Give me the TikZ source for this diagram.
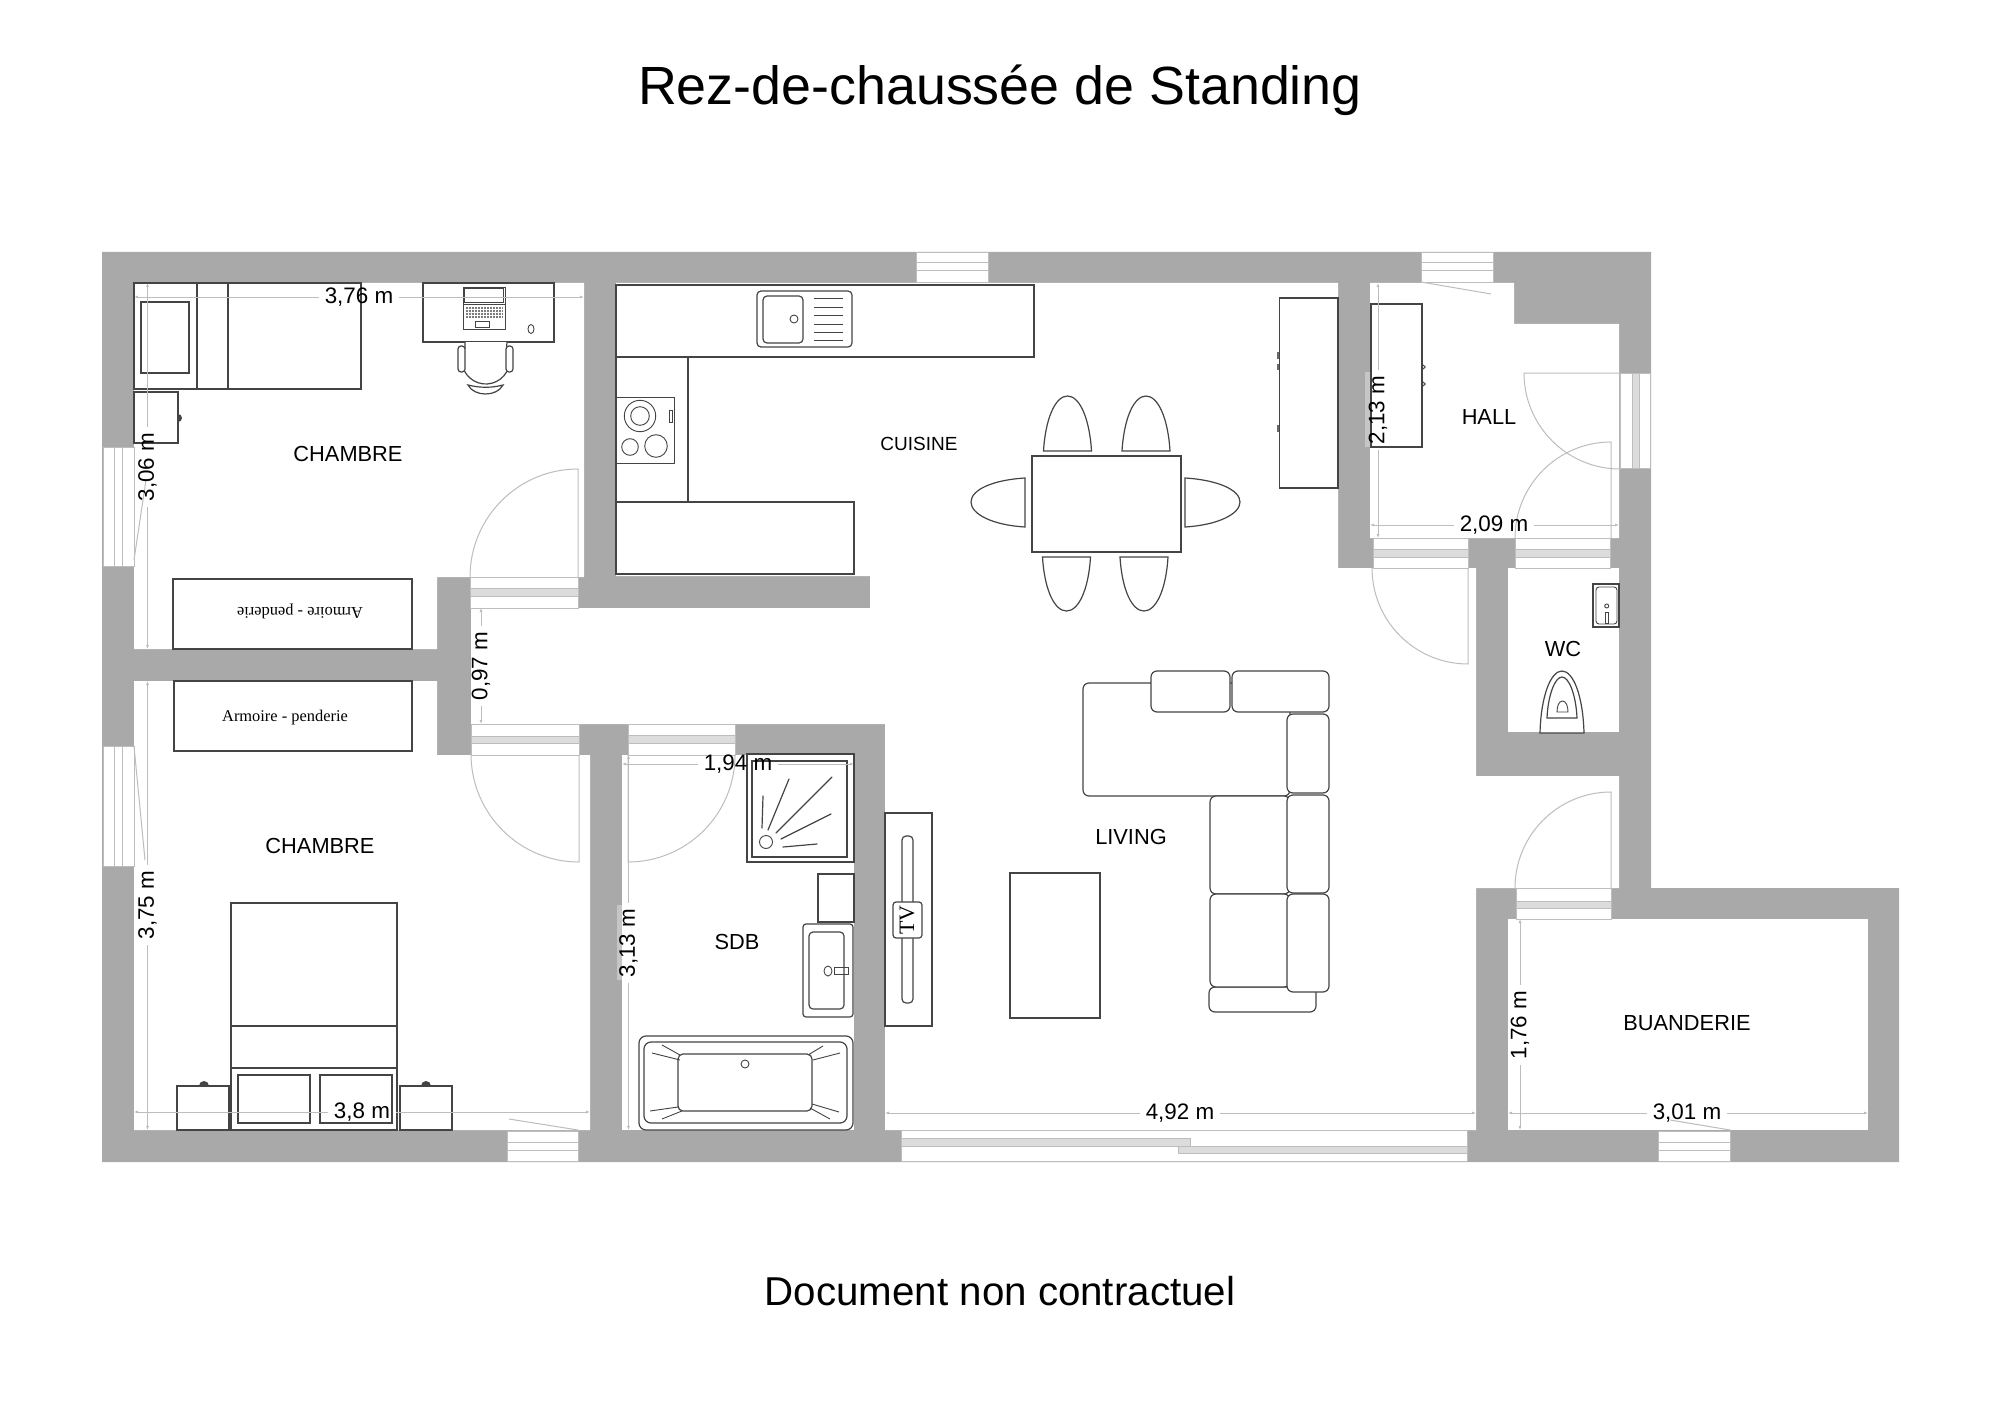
\documentclass[tikz,border=0pt]{standalone}
\usepackage{fontspec}
\setmainfont{Liberation Sans}
\newfontfamily\plaque{Liberation Serif}
\usetikzlibrary{arrows.meta}
\definecolor{wallgray}{HTML}{A9A9A9}
\definecolor{halogray}{HTML}{C6C6C6}
\definecolor{framegray}{HTML}{BDBDBD}
\definecolor{stripegray}{HTML}{DCDCDC}
\definecolor{furnline}{HTML}{444444}
\begin{document}
\begin{tikzpicture}[
    x=1pt, y=-1pt,
    wall/.style={fill=wallgray},
    room/.style={fill=white},
    opening/.style={draw=framegray, line width=0.9pt, fill=white},
    stripe/.style={draw=framegray, line width=0.8pt, fill=stripegray},
    swing/.style={draw=framegray, line width=1pt},
    furn/.style={draw=furnline, line width=1.2pt, fill=white},
    fine/.style={draw=furnline, line width=0.9pt},
    roundfurn/.style={furn, rounded corners=6pt},
    dimline/.style={draw=framegray, line width=0.9pt, -{Latex[length=4pt,width=3pt]}},
    dimtext/.style={inner sep=6pt, font=\fontsize{22.4}{24}\selectfont},
    roomtext/.style={font=\fontsize{21.8}{24}\selectfont},
    plaquetext/.style={font=\plaque\fontsize{16.4}{18}\selectfont}
]
\useasboundingbox (0,0) rectangle (2000,1415);

% Titles
\node[font=\fontsize{53.8}{60}\selectfont] (title) at (1000,90) {Rez-de-chaussée de Standing};
\node[font=\fontsize{40.3}{46}\selectfont] (notice) at (1000,1291) {Document non contractuel};

% Walls
\fill[wall] (102,252) -- (1651,252) -- (1651,888) -- (1899,888) -- (1899,1162) -- (102,1162) -- cycle;

% Rooms
\fill[room] (134,283) -- (584,283) -- (584,577) -- (437,577) -- (437,649) -- (134,649) -- cycle;
\fill[room] (134,681) -- (437,681) -- (437,755) -- (590,755) -- (590,1130) -- (134,1130) -- cycle;
\fill[room] (622,755) rectangle (854,1130);
\fill[room] (616,283) -- (1338,283) -- (1338,568) -- (1476,568) -- (1476,776) -- (1619,776) -- (1619,888)
    -- (1476,888) -- (1476,1130) -- (885,1130) -- (885,724) -- (471,724) -- (471,608) -- (870,608) -- (870,576) -- (616,576) -- cycle;
\fill[room] (1370,283) -- (1514,283) -- (1514,324) -- (1619,324) -- (1619,538) -- (1370,538) -- cycle;
\fill[room] (1508,568) rectangle (1619,732);
\fill[room] (1508,919) rectangle (1868,1130);

% Text halos on the walls
\fill[halogray] (617,905) rectangle (622,980);
\fill[halogray] (1365,372) rectangle (1370,447);

% Doors
\draw[opening] (470,577) rectangle (578,608);
\draw[stripe] (470,588) rectangle (578,596);
\draw[opening] (471,724) rectangle (579,755);
\draw[stripe] (471,736) rectangle (579,743);
\draw[opening] (628,724) rectangle (735,755);
\draw[stripe] (628,735) rectangle (735,743);
\draw[opening] (1373,538) rectangle (1468,568);
\draw[stripe] (1373,549) rectangle (1468,557);
\draw[opening] (1515,538) rectangle (1610,568);
\draw[stripe] (1515,549) rectangle (1610,557);
\draw[opening] (1516,888) rectangle (1611,919);
\draw[stripe] (1516,901) rectangle (1611,908);
\draw[opening] (1620,373) rectangle (1650,468);
\draw[stripe] (1632,373) rectangle (1639,468);

% Door swings
\draw[swing] (578,577) -- (578,469) arc[start angle=-90, end angle=-180, radius=108];
\draw[swing] (579,755) -- (579,862) arc[start angle=90, end angle=180, radius=108];
\draw[swing] (628,755) -- (628,862) arc[start angle=90, end angle=0, radius=107];
\draw[swing] (1620,373) -- (1524,373) arc[start angle=180, end angle=90, radius=96];
\draw[swing] (1611,538) -- (1611,442) arc[start angle=-90, end angle=-180, radius=96];
\draw[swing] (1468,568) -- (1468,664) arc[start angle=90, end angle=180, radius=96];
\draw[swing] (1611,888) -- (1611,792) arc[start angle=-90, end angle=-180, radius=96];

% Windows
\draw[opening] (103,447) rectangle (134,566);
\draw[swing] (114,447) -- (114,566) (122,447) -- (122,566);
\draw[opening] (103,746) rectangle (134,866);
\draw[swing] (114,746) -- (114,866) (122,746) -- (122,866);
\draw[opening] (916,252) rectangle (988,282);
\draw[swing] (916,263) -- (988,263) (916,271) -- (988,271);
\draw[opening] (1421,252) rectangle (1493,282);
\draw[swing] (1421,263) -- (1493,263) (1421,271) -- (1493,271);
\draw[opening] (507,1131) rectangle (578,1161);
\draw[swing] (507,1142) -- (578,1142) (507,1150) -- (578,1150);
\draw[opening] (1658,1131) rectangle (1730,1161);
\draw[swing] (1658,1142) -- (1730,1142) (1658,1150) -- (1730,1150);
\draw[swing] (134,560) -- (146,480);
\draw[swing] (134,746) -- (145,860);
\draw[swing] (578,1130) -- (509,1119);
\draw[swing] (1421,282) -- (1491,294);
\draw[swing] (1730,1130) -- (1670,1120);

% Sliding window
\draw[opening] (901,1130) rectangle (1467,1161);
\draw[stripe] (901,1138) rectangle (1190,1146);
\draw[stripe] (1178,1146) rectangle (1467,1153);

% Chambre 1
\draw[furn] (134,283) rectangle (361,389);
\draw[furn] (197,283) -- (197,389) (228,283) -- (228,389);
\draw[furn] (141,302) rectangle (189,373);
\fill[furnline] (178,414) arc[start angle=-90, end angle=90, radius=4];
\draw[furn] (134,392) rectangle (178,443);
\draw[furn] (423,283) rectangle (554,342);
\draw[fine] (463,287) rectangle (505,329);
\draw[fine] (464,288) rectangle (503,302);
\draw[fine] (463,304) -- (505,304);
\fill[furnline!70] (465,307) rectangle (503,319);
\draw[white, line width=0.3pt, step=3pt] (465,307) grid (503,319);
\draw[fine] (475,321) rectangle (489,327);
\draw[fine] (531,329) ellipse[x radius=3, y radius=4.5];
\draw[furn] (465,342) -- (465,348) arc[start angle=210, end angle=-30, radius=24] -- (507,342);
\draw[roundfurn, rounded corners=3pt] (458,346) rectangle (465,372);
\draw[roundfurn, rounded corners=3pt] (506,346) rectangle (513,372);
\draw[furn] (468,385) .. controls (480,388) and (492,388) .. (503,385) .. controls (497,397) and (474,397) .. (468,385) -- cycle;
\draw[furn] (173,579) rectangle (412,649);
\node[plaquetext, rotate=180] (armoire1) at (300,611) {Armoire - penderie};

% Chambre 2
\draw[furn] (174,681) rectangle (412,751);
\node[plaquetext] (armoire2) at (285,718) {Armoire - penderie};
\draw[furn] (231,903) rectangle (397,1130);
\draw[furn] (231,1026) -- (397,1026) (231,1068) -- (397,1068);
\draw[furn] (238,1075) rectangle (310,1123);
\draw[furn] (320,1075) rectangle (392,1123);
\foreach \lampx/\lampa/\lampb in {204/177/229, 426/400/452} {
    \fill[furnline] ({\lampx-5},1086) arc[start angle=180, end angle=360, radius=5];
    \draw[furn] (\lampa,1086) rectangle (\lampb,1130);
}

% Cuisine
\draw[furn] (616,285) rectangle (1034,357);
\draw[furn] (616,357) rectangle (688,502);
\draw[furn] (616,502) rectangle (854,574);
\draw[roundfurn, rounded corners=4pt] (757,291) rectangle (852,347);
\draw[roundfurn, rounded corners=4pt] (763,296) rectangle (803,343);
\draw[fine] (794,319) circle[radius=4];
\foreach \ligne in {298.3,307.3,315.7,324.3,332.7,340.7}
    \draw[fine] (813.5,\ligne) -- (842.5,\ligne);
\draw[furn, line width=0.9pt] (616,397) rectangle (674,463);
\draw[fine] (640,416) circle[radius=15.7];
\draw[fine] (640,416) circle[radius=9.3];
\draw[fine] (630,447) circle[radius=8.3];
\draw[fine] (656,446) circle[radius=11.3];
\draw[fine] (669,410) rectangle (672,422);

% Table et chaises
\draw[furn] (1032,456) rectangle (1181,552);
\foreach \cx in {1067.5,1146}
    \draw[furn] ({\cx-24},451) .. controls ({\cx-22},418) and ({\cx-12},396) .. (\cx,396) .. controls ({\cx+12},396) and ({\cx+22},418) .. ({\cx+24},451) -- cycle;
\foreach \cx in {1066.5,1144}
    \draw[furn] ({\cx-24},557) .. controls ({\cx-22},590) and ({\cx-12},611) .. (\cx,611) .. controls ({\cx+12},611) and ({\cx+22},590) .. ({\cx+24},557) -- cycle;
\draw[furn] (1025,478) .. controls (992,480) and (971,490) .. (971,502) .. controls (971,514) and (992,525) .. (1025,527) -- cycle;
\draw[furn] (1185,478) .. controls (1218,480) and (1240,490) .. (1240,502) .. controls (1240,514) and (1218,525) .. (1185,527) -- cycle;

% Meuble cuisine et meuble du hall
\foreach \poignee in {352,363.5,425}
    \fill[furnline!80] (1277,\poignee) rectangle (1280,{\poignee+6.5});
\draw[furn] (1279.5,298) rectangle (1338,488);
\draw[furn] (1371,304) rectangle (1422,447);
\draw[fine] (1423.5,367) circle[radius=1.7] (1423.5,384) circle[radius=1.7];

% Salle de bains
\draw[furn] (747,754) rectangle (854,862);
\draw[furn] (752,761) rectangle (847,857);
\draw[fine] (766,842) circle[radius=6.5];
\draw[furn, line cap=round] (762,828) -- (763,796);
\draw[furn, line cap=round] (768,830) -- (789,779);
\draw[furn, line cap=round] (776,833) -- (832,777);
\draw[furn, line cap=round] (781,839) -- (831,814);
\draw[furn, line cap=round] (783,847) -- (817,844);
\draw[furn] (818,874) rectangle (854,922);
\draw[roundfurn, rounded corners=3pt] (803,924) rectangle (853,1017);
\draw[roundfurn, rounded corners=4pt] (809,932) rectangle (844,1009);
\draw[fine] (828,971) ellipse[x radius=4, y radius=5];
\draw[fine] (834.5,967) rectangle (848,974);
\draw[roundfurn, rounded corners=7pt] (639,1036) rectangle (853,1130);
\draw[roundfurn, rounded corners=7pt] (644,1042) rectangle (847,1123);
\draw[roundfurn, rounded corners=5pt] (678,1054) rectangle (812,1111);
\draw[fine] (745,1064) circle[radius=4];
\foreach \ax/\ay/\bx/\by in {680/1055/662/1045, 680/1060/652/1053, 808/1055/823/1046, 813/1060/840/1053,
    678/1107/650/1111, 682/1111/662/1119, 812/1104/839/1112, 810/1108/830/1119}
    \draw[fine] (\ax,\ay) -- (\bx,\by);

% Meuble TV et table basse
\draw[furn] (885,813) rectangle (932,1026);
\draw[roundfurn, rounded corners=4pt] (902,836) rectangle (913,1003);
\draw[roundfurn, rounded corners=3pt] (893,902) rectangle (922,938);
\node[rotate=90, font=\plaque\fontsize{22}{24}\selectfont] (tv) at (907,920) {TV};
\draw[furn] (1010,873) rectangle (1100,1018);

% Canape
\draw[roundfurn] (1083,683) rectangle (1290,796);
\draw[roundfurn] (1209,987) rectangle (1316,1012);
\draw[roundfurn] (1210,796) rectangle (1290,894);
\draw[roundfurn] (1210,894) rectangle (1290,987);
\draw[roundfurn] (1151,671) rectangle (1230,712);
\draw[roundfurn] (1232,671) rectangle (1329,712);
\draw[roundfurn] (1287,714) rectangle (1329,793);
\draw[roundfurn] (1287,795) rectangle (1329,893);
\draw[roundfurn] (1287,894) rectangle (1329,992);

% WC
\draw[furn] (1593,584) rectangle (1619,627);
\draw[roundfurn, rounded corners=3pt, line width=0.9pt] (1596,587) rectangle (1617,624);
\draw[fine] (1606.7,606) circle[radius=2];
\draw[fine] (1605,612) rectangle (1608.3,623);
\draw[furn] (1540,733) .. controls (1541,695) and (1551,671) .. (1562,671) .. controls (1573,671) and (1583,695) .. (1584,733) -- cycle;
\draw[furn] (1547,718) .. controls (1548,695) and (1555,677) .. (1562,677) .. controls (1569,677) and (1576,695) .. (1577,718) -- cycle;
\draw[fine] (1557,712) .. controls (1557,706) and (1559,701) .. (1562.5,701) .. controls (1566,701) and (1568,706) .. (1568,712) -- cycle;

% Room names
\node[roomtext] (chambre1) at (348,454) {CHAMBRE};
\node[roomtext] (chambre2) at (320,846) {CHAMBRE};
\node[font=\fontsize{19}{22}\selectfont] (cuisine) at (919,444) {CUISINE};
\node[roomtext] (living) at (1131,837) {LIVING};
\node[roomtext] (sdb) at (737,942) {SDB};
\node[roomtext] (hall) at (1489,417) {HALL};
\node[roomtext] (wc) at (1563,649) {WC};
\node[roomtext] (buanderie) at (1687,1023) {BUANDERIE};

% Dimensions
\coordinate (w376) at (134,297);
\coordinate (e376) at (584,297);
\node[dimtext] (d376) at (359,297) {3,76 m};
\draw[dimline] (d376) -- (w376);
\draw[dimline] (d376) -- (e376);

\coordinate (n306) at (147.5,283);
\coordinate (s306) at (147.5,649);
\node[dimtext, rotate=90] (d306) at (147.5,467) {3,06 m};
\draw[dimline] (d306) -- (n306);
\draw[dimline] (d306) -- (s306);

\coordinate (n097) at (481,608);
\coordinate (s097) at (481,724);
\node[dimtext, rotate=90] (d097) at (481,666) {0,97 m};
\draw[dimline] (d097) -- (n097);
\draw[dimline] (d097) -- (s097);

\coordinate (n375) at (147.5,681);
\coordinate (s375) at (147.5,1130);
\node[dimtext, rotate=90] (d375) at (147.5,905) {3,75 m};
\draw[dimline] (d375) -- (n375);
\draw[dimline] (d375) -- (s375);

\coordinate (w380) at (134,1112);
\coordinate (e380) at (590,1112);
\node[dimtext] (d380) at (362,1112) {3,8 m};
\draw[dimline] (d380) -- (w380);
\draw[dimline] (d380) -- (e380);

\coordinate (w194) at (622,764);
\coordinate (e194) at (854,764);
\node[dimtext] (d194) at (738,764) {1,94 m};
\draw[dimline] (d194) -- (w194);
\draw[dimline] (d194) -- (e194);

\coordinate (n313) at (628.5,755);
\coordinate (s313) at (628.5,1130);
\node[dimtext, rotate=90] (d313) at (628.5,943) {3,13 m};
\draw[dimline] (d313) -- (n313);
\draw[dimline] (d313) -- (s313);

\coordinate (w492) at (885,1113);
\coordinate (e492) at (1476,1113);
\node[dimtext] (d492) at (1180,1113) {4,92 m};
\draw[dimline] (d492) -- (w492);
\draw[dimline] (d492) -- (e492);

\coordinate (n213) at (1378,283);
\coordinate (s213) at (1378,538);
\node[dimtext, rotate=90] (d213) at (1378,410) {2,13 m};
\draw[dimline] (d213) -- (n213);
\draw[dimline] (d213) -- (s213);

\coordinate (w209) at (1370,525);
\coordinate (e209) at (1619,525);
\node[dimtext] (d209) at (1494,525) {2,09 m};
\draw[dimline] (d209) -- (w209);
\draw[dimline] (d209) -- (e209);

\coordinate (n176) at (1520,919);
\coordinate (s176) at (1520,1130);
\node[dimtext, rotate=90] (d176) at (1520,1025) {1,76 m};
\draw[dimline] (d176) -- (n176);
\draw[dimline] (d176) -- (s176);

\coordinate (w301) at (1508,1113);
\coordinate (e301) at (1868,1113);
\node[dimtext] (d301) at (1687,1113) {3,01 m};
\draw[dimline] (d301) -- (w301);
\draw[dimline] (d301) -- (e301);

\end{tikzpicture}
\end{document}
